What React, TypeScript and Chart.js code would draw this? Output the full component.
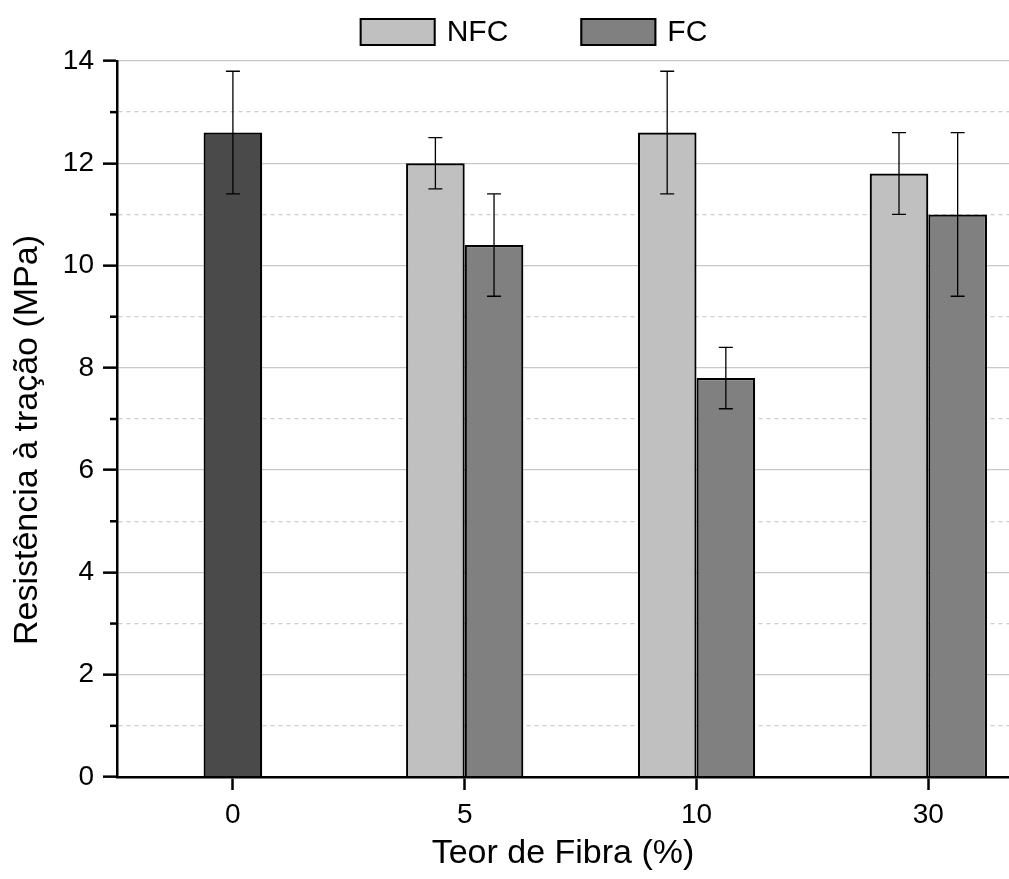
import React, { useEffect, useRef } from 'react';
import { Chart, registerables } from 'chart.js';

Chart.register(...registerables);

const FONT = "'Liberation Sans', Arial, Helvetica, sans-serif";

// ---- data ----
const categories = ['0', '5', '10', '30'];
const controlLabel = 'Controle';
const controlX = [0];
const controlValues = [12.6];
const controlErrors = [1.2];
const nfcLabel = 'NFC';
const nfcX = [1, 2, 3];
const nfcValues = [12.0, 12.6, 11.8];
const nfcErrors = [0.5, 1.2, 0.8];
const fcLabel = 'FC';
const fcX = [1, 2, 3];
const fcValues = [10.4, 7.8, 11.0];
const fcErrors = [1.0, 0.6, 1.6];
const xTitle = 'Teor de Fibra (%)';
const yTitle = 'Resistência à tração (MPa)';
const yMin = 0;
const yMax = 14;

const toPoints = (xs: number[], ys: number[]) => xs.map((x, i) => ({ x, y: ys[i] }));

const errorBarPlugin = {
  id: 'errorBars',
  afterDatasetsDraw(chart: any) {
    const ctx = chart.ctx;
    const yScale = chart.scales.y;
    ctx.save();
    ctx.strokeStyle = '#000';
    ctx.lineWidth = 1.3;
    chart.data.datasets.forEach((ds: any, d: number) => {
      const meta = chart.getDatasetMeta(d);
      if (!ds.errors) return;
      meta.data.forEach((el: any, j: number) => {
        const v = ds.data[j].y;
        const e = ds.errors[j];
        const x = el.x;
        const yt = yScale.getPixelForValue(v + e);
        const yb = yScale.getPixelForValue(v - e);
        const cap = 7;
        ctx.beginPath();
        ctx.moveTo(x, yt);
        ctx.lineTo(x, yb);
        ctx.moveTo(x - cap, yt);
        ctx.lineTo(x + cap, yt);
        ctx.moveTo(x - cap, yb);
        ctx.lineTo(x + cap, yb);
        ctx.stroke();
      });
    });
    ctx.restore();
  },
};

const decorPlugin = {
  id: 'decor',
  afterDraw(chart: any) {
    const ctx = chart.ctx;
    const area = chart.chartArea;
    const yScale = chart.scales.y;
    ctx.save();
    // minor ticks on y axis
    ctx.strokeStyle = '#000';
    ctx.lineWidth = 2.5;
    yScale.ticks.forEach((t: any) => {
      if (Math.round(t.value) % 2 !== 0) {
        const y = yScale.getPixelForValue(t.value);
        ctx.beginPath();
        ctx.moveTo(area.left - 7, y);
        ctx.lineTo(area.left, y);
        ctx.stroke();
      }
    });
    // y title
    ctx.fillStyle = '#000';
    ctx.font = `34px ${FONT}`;
    ctx.textAlign = 'center';
    ctx.textBaseline = 'middle';
    ctx.save();
    ctx.translate(28, (area.top + area.bottom) / 2 + 21);
    ctx.rotate(-Math.PI / 2);
    ctx.fillText(yTitle, 0, 0);
    ctx.restore();
    // legend
    const items = [chart.data.datasets[1], chart.data.datasets[2]];
    ctx.font = `30px ${FONT}`;
    const boxW = 76;
    const boxH = 28;
    const gapText = 11;
    const gapItem = 72;
    const widths = items.map((ds: any) => boxW + gapText + ctx.measureText(ds.label).width);
    const total = widths.reduce((a: number, b: number) => a + b, 0) + gapItem * (items.length - 1);
    let x = (area.left + area.right) / 2 - 29.5 - total / 2;
    const yMid = area.top - 29;
    ctx.textAlign = 'left';
    items.forEach((ds: any, i: number) => {
      ctx.fillStyle = ds.backgroundColor;
      ctx.fillRect(x, yMid - boxH / 2, boxW, boxH);
      ctx.strokeStyle = '#000';
      ctx.lineWidth = 2;
      ctx.strokeRect(x + 1, yMid - boxH / 2 + 1, boxW - 2, boxH - 2);
      ctx.fillStyle = '#000';
      ctx.fillText(ds.label, x + boxW + gapText, yMid + 1);
      x += widths[i] + gapItem;
    });
    ctx.restore();
  },
};

export default function App() {
  const canvasRef = useRef<HTMLCanvasElement | null>(null);

  useEffect(() => {
    if (!canvasRef.current) return;
    const isMajor = (ctx: any) => {
      const v = ctx && ctx.tick ? ctx.tick.value : 0;
      return Math.round(v) % 2 === 0;
    };
    const chart = new Chart(canvasRef.current, {
      type: 'bar',
      data: {
        datasets: [
          {
            label: controlLabel,
            data: toPoints(controlX, controlValues) as any,
            errors: controlErrors,
            backgroundColor: '#4a4a4a',
            borderColor: '#000',
            borderWidth: 2.2,
            grouped: false,
            barPercentage: 0.5,
            categoryPercentage: 0.506,
          } as any,
          {
            label: nfcLabel,
            data: toPoints(nfcX, nfcValues) as any,
            errors: nfcErrors,
            backgroundColor: '#c0c0c0',
            borderColor: '#000',
            borderWidth: 2.2,
            barPercentage: 1.0,
            categoryPercentage: 0.506,
          } as any,
          {
            label: fcLabel,
            data: toPoints(fcX, fcValues) as any,
            errors: fcErrors,
            backgroundColor: '#808080',
            borderColor: '#000',
            borderWidth: 2.2,
            barPercentage: 1.0,
            categoryPercentage: 0.506,
          } as any,
        ],
      },
      options: {
        animation: false,
        responsive: true,
        maintainAspectRatio: false,
        layout: { padding: { top: 61, right: 0, bottom: 0, left: 0 } },
        plugins: {
          legend: { display: false },
          tooltip: { enabled: false },
        },
        scales: {
          x: {
            type: 'linear',
            min: -0.5,
            max: 3.348,
            offset: false,
            afterFit: (s: any) => {
              s.height = 102;
            },
            grid: {
              drawOnChartArea: false,
              drawTicks: true,
              tickLength: 13,
              tickColor: '#000',
              tickWidth: 2.5,
              offset: false,
            },
            border: { color: '#000', width: 2.5, z: 1 },
            ticks: {
              stepSize: 1,
              includeBounds: false,
              autoSkip: false,
              maxRotation: 0,
              padding: 8,
              color: '#000',
              font: { family: FONT, size: 28 },
              callback: (v: any) => categories[Math.round(Number(v))] ?? '',
            },
            title: {
              display: true,
              text: xTitle,
              color: '#000',
              font: { family: FONT, size: 34 },
              padding: { top: 0, bottom: 5 },
            },
          } as any,
          y: {
            min: yMin,
            max: yMax,
            afterFit: (s: any) => {
              s.width = 117;
            },
            grid: {
              color: (ctx: any) => (isMajor(ctx) ? '#c8c8c8' : '#cfcfcf'),
              lineWidth: 1.3,
              tickLength: 14,
              tickWidth: 2.5,
              tickColor: (ctx: any) => (isMajor(ctx) ? '#000' : 'rgba(0,0,0,0)'),
            },
            border: {
              color: '#000',
              width: 2.5,
              z: 1,
              dash: (ctx: any) => (isMajor(ctx) ? [] : [4, 4]),
            },
            ticks: {
              stepSize: 1,
              padding: 9,
              color: '#000',
              font: { family: FONT, size: 28 },
              callback: (v: any) => (Math.round(Number(v)) % 2 === 0 ? String(v) : ''),
            },
          } as any,
        },
      },
      plugins: [errorBarPlugin, decorPlugin],
    } as any);
    return () => chart.destroy();
  }, []);

  return (
    <div style={{ position: 'absolute', left: 0, top: 0, width: 1009, height: 879, background: '#fff' }}>
      <canvas ref={canvasRef} />
    </div>
  );
}
